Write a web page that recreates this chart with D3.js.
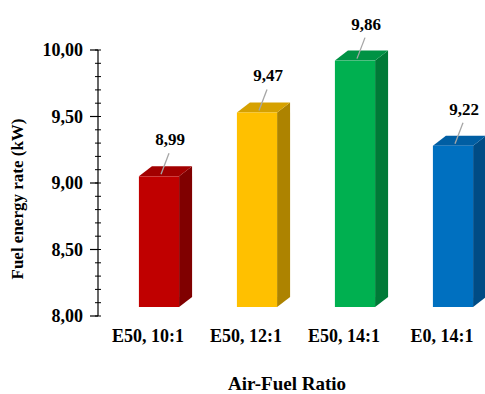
<!DOCTYPE html>
<html>
<head>
<meta charset="utf-8">
<script src="https://cdn.jsdelivr.net/npm/d3@7"></script>
<style>
  body { margin: 0; background: #fff; }
</style>
</head>
<body>
<svg id="chart" width="485" height="394"></svg>
<script>
// data
const categories = ["E50, 10:1", "E50, 12:1", "E50, 14:1", "E0, 14:1"];
const values = [8.99, 9.47, 9.86, 9.22];
const valueLabels = ["8,99", "9,47", "9,86", "9,22"];
const yTicks = [8.0, 8.5, 9.0, 9.5, 10.0];
const frontColors = ["#C00000", "#FFC000", "#00B050", "#0070C0"];
const sideColors = ["#800000", "#AD8300", "#007A37", "#004C85"];
const topColors = ["#A20000", "#D6A100", "#009244", "#005EA3"];

const FONT = "'Liberation Serif', 'Times New Roman', 'DejaVu Serif', serif";

const svg = d3.select("#chart");

const axisX = 98;
const y = d3.scaleLinear().domain([8, 10]).range([316, 50]);
const x = d3.scaleBand().domain(categories).range([99, 491]);

function label(sel, size) {
  return sel.attr("font-family", FONT)
    .attr("font-weight", "bold")
    .attr("font-size", size)
    .attr("fill", "#000");
}

// 3d look
const depthX = 13, depthY = 10, lift = 8;
const barW = x.bandwidth() * 0.41;
const shiftX = 11;

const bars = svg.append("g");
categories.forEach((c, i) => {
  const left = x(c) + x.bandwidth() / 2 + shiftX - barW / 2;
  const right = left + barW;
  const top = y(values[i]) - lift;
  const bottom = y(8) - lift - 1;

  // side
  bars.append("path")
    .attr("d", `M${right},${top} L${right + depthX},${top - depthY} L${right + depthX},${bottom - depthY} L${right},${bottom} Z`)
    .attr("fill", sideColors[i]);
  // top
  bars.append("path")
    .attr("d", `M${left},${top} L${left + depthX},${top - depthY} L${right + depthX},${top - depthY} L${right},${top} Z`)
    .attr("fill", topColors[i]);
  // front
  bars.append("rect")
    .attr("x", left).attr("y", top)
    .attr("width", barW).attr("height", bottom - top)
    .attr("fill", frontColors[i]);

  // value label + leader line
  const cx = left + barW / 2;
  const lx = cx + shiftX;
  const base = top - 31;
  bars.append("line")
    .attr("x1", lx - 1).attr("y1", base + 8)
    .attr("x2", cx + 2).attr("y2", top - 2)
    .attr("stroke", "#A6A6A6").attr("stroke-width", 1.3);
  label(bars.append("text"), 17)
    .attr("x", lx).attr("y", base)
    .attr("text-anchor", "middle")
    .text(valueLabels[i]);
});

// y axis
const yAxis = svg.append("g").attr("transform", `translate(${axisX},0)`);
yAxis.append("line").attr("x1", 0).attr("x2", 0).attr("y1", y(8)).attr("y2", y(10))
  .attr("stroke", "#000").attr("stroke-width", 1.2);
yAxis.selectAll(".minor").data(d3.range(8, 10.001, 0.1)).join("line")
  .attr("x1", -3).attr("x2", 3)
  .attr("y1", d => y(d)).attr("y2", d => y(d))
  .attr("stroke", "#000").attr("stroke-width", 1);
yAxis.selectAll(".major").data(yTicks).join("line")
  .attr("x1", -8).attr("x2", 0)
  .attr("y1", d => y(d)).attr("y2", d => y(d))
  .attr("stroke", "#000").attr("stroke-width", 1.2);
label(yAxis.selectAll(".lbl").data(yTicks).join("text"), 18)
  .attr("x", -15).attr("y", d => y(d)).attr("dy", "0.35em")
  .attr("text-anchor", "end")
  .text(d => d3.format(".2f")(d).replace(".", ","));

// category labels
label(svg.append("g").selectAll("text").data(categories).join("text"), 18)
  .attr("x", d => x(d) + x.bandwidth() / 2)
  .attr("y", 342)
  .attr("text-anchor", "middle")
  .text(d => d);

// axis titles
label(svg.append("text"), 19)
  .attr("x", 287).attr("y", 390)
  .attr("text-anchor", "middle")
  .text("Air-Fuel Ratio");
label(svg.append("text"), 17)
  .attr("transform", "translate(23,199) rotate(-90)")
  .attr("text-anchor", "middle")
  .text("Fuel energy rate (kW)");
</script>
</body>
</html>
